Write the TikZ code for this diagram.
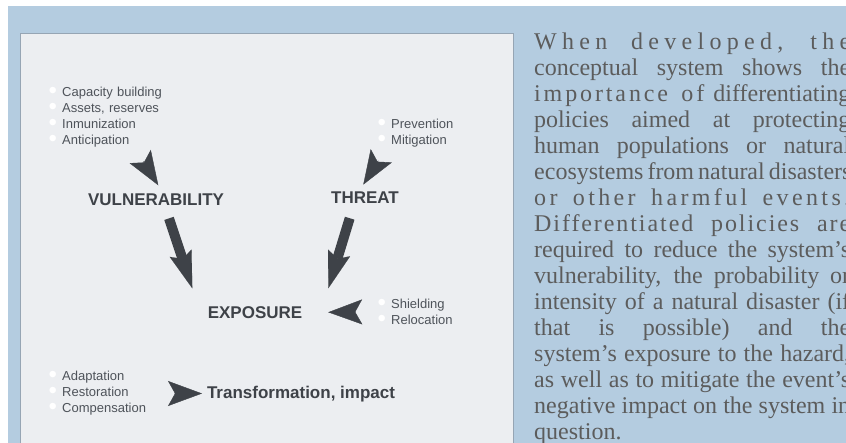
\documentclass[tikz,border=0pt]{standalone}
\usepackage{fontspec}
\setmainfont{Liberation Sans}
\newfontfamily\serifface{Liberation Serif}
\usepackage{xcolor}
\definecolor{Sky}{RGB}{180,204,224}
\definecolor{Panel}{RGB}{236,238,241}
\definecolor{Frame}{RGB}{150,165,180}
\definecolor{Dark}{RGB}{62,66,72}
\definecolor{Grey}{RGB}{78,83,90}
\definecolor{Prose}{RGB}{92,92,92}
\definecolor{White}{RGB}{255,255,255}
\newcommand{\bul}{\makebox[11pt][l]{\hspace{-2.5pt}\raisebox{-1.8pt}{\fontsize{24}{24}\selectfont\textcolor{White}{\textbullet}}}}
\newcommand{\jline}[1]{\makebox[316pt][s]{\spaceskip=0pt\xspaceskip=0pt\relax#1}\\}
\usepackage{tikz}
\usetikzlibrary{arrows.meta}

\begin{document}
\begin{tikzpicture}[x=1pt, y=-1pt,
		headword/.style={font=\fontsize{17}{20}\selectfont\bfseries, color=Dark, inner sep=0pt, anchor=base},
		itemlist/.style={font=\fontsize{13}{16}\selectfont, color=Grey, inner sep=0pt, anchor=base west, text width=140pt, align=left},
		prose/.style={font=\serifface\fontsize{24}{26}\selectfont, color=Prose, inner sep=0pt, anchor=base west, text width=330pt, align=left},
		dart/.style={draw=Dark, line width=0.4pt, -{Stealth[length=34pt, width=25pt, inset=7pt, line width=0.4pt]}},
		bigarrow/.style={draw=Dark, line width=10pt, -{Stealth[length=37pt, width=23pt, inset=6pt, line width=0.1pt]}}]
		
		\useasboundingbox (0,0) rectangle (846,443);
		\clip (0,0) rectangle (846,443);
		
		% Background
		\fill[White] (0,0) rectangle (846,443);
		\fill[Sky] (8,6) rectangle (846,443);
		\filldraw[fill=Panel, draw=Frame, line width=0.8pt] (20.5,33.5) rectangle (513.5,450);
		
		% Names
		\node[headword] (vul) at (156,205.5) {VULNERABILITY};
		\node[headword] (threat) at (365,204) {THREAT};
		\node[headword] (expo) at (255,319) {EXPOSURE};
		\node[headword] (trans) at (301,398.5) {Transformation, impact};
		
		% Measures
		\node[itemlist] (capList) at (51,96.5) {\bul Capacity building\\ \bul Assets, reserves\\ \bul Inmunization\\ \bul Anticipation};
		\node[itemlist] (prevList) at (380,128.3) {\bul Prevention\\ \bul Mitigation};
		\node[itemlist] (shieldList) at (380,308.3) {\bul Shielding\\ \bul Relocation};
		\node[itemlist] (adaptList) at (51,380.7) {\bul Adaptation\\ \bul Restoration\\ \bul Compensation};
		
		% Darts
		\coordinate (capTail) at (143.2,161.3);
		\coordinate (prevTail) at (378.3,160.6);
		\coordinate (shieldTail) at (355,312);
		\coordinate (adaptTail) at (174.7,393.5);
		\draw[dart] (capTail) -- ([xshift=2.3pt, yshift=8.3pt]vul.north);
		\draw[dart] (prevTail) -- ([xshift=-1.7pt, yshift=7.5pt]threat.north);
		\draw[dart] (shieldTail) -- ([xshift=25.8pt, yshift=0.9pt]expo.east);
		\draw[dart] (adaptTail) -- ([xshift=-4.8pt, yshift=0.6pt]trans.west);
		
		% Big arrows
		\draw[bigarrow] ([xshift=13pt, yshift=-12.5pt]vul.south) -- ([xshift=-62.7pt, yshift=18.6pt]expo.north);
		\draw[bigarrow] ([xshift=-15.3pt, yshift=-14pt]threat.south) -- ([xshift=73.3pt, yshift=18.6pt]expo.north);
		
		% Text
		\node[prose] (note) at (534,50) {%
			\jline{{\addfontfeature{LetterSpace=22}When developed, the}}%
			\jline{conceptual system shows the}%
			\jline{{\addfontfeature{LetterSpace=12}importance of} differentiating}%
			\jline{policies aimed at protecting}%
			\jline{human populations or natural}%
			\jline{ecosystems from natural disasters}%
			\jline{{\addfontfeature{LetterSpace=14}or other harmful events.}}%
			\jline{{\addfontfeature{LetterSpace=8}Differentiated policies are}}%
			\jline{required to reduce the system’s}%
			\jline{vulnerability, the probability or}%
			\jline{intensity of a natural disaster (if}%
			\jline{that is possible) and the}%
			\jline{system’s exposure to the hazard,}%
			\jline{as well as to mitigate the event’s}%
			\jline{negative impact on the system in}%
			question.};
		
	\end{tikzpicture}
\end{document}
